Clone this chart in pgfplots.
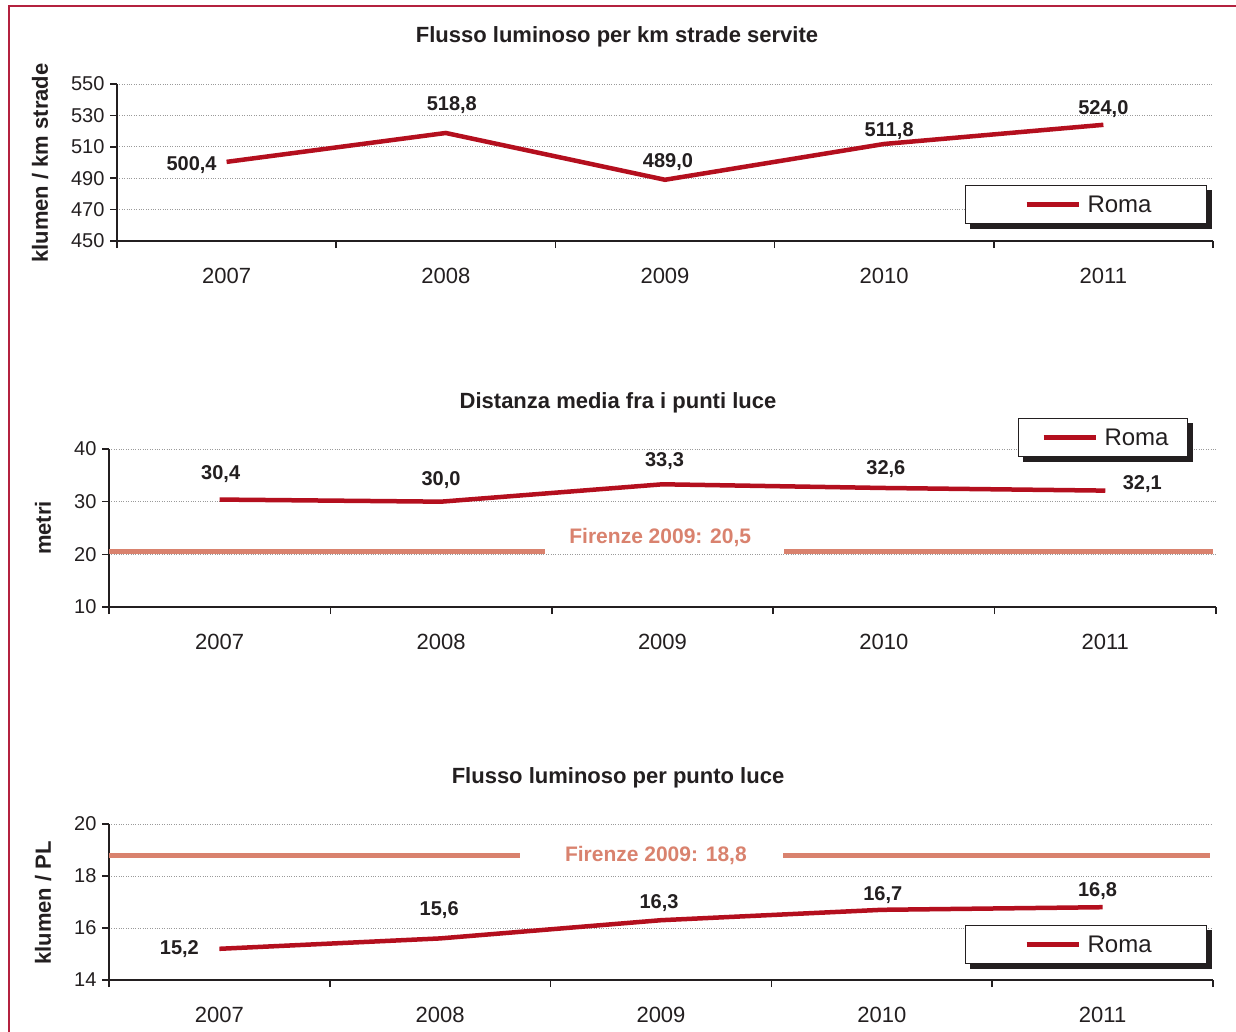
\documentclass[border=0pt]{standalone}
\usepackage{fontspec}
\setmainfont{Liberation Sans}
\usepackage{pgfplots}
\pgfplotsset{compat=1.18}

\definecolor{romared}{HTML}{B40F1E}
\definecolor{firenze}{HTML}{D9826E}
\definecolor{framered}{HTML}{B4213F}
\definecolor{ink}{HTML}{231F20}
\definecolor{gridgray}{HTML}{9A9A9A}

\newcommand{\fs}[1]{\fontsize{#1}{#1}\selectfont}
% solid offset shadow along the right and bottom edges of a legend box
\newcommand{\legshadow}[1]{%
  \fill[ink] ([xshift=5pt]#1.south west) rectangle ([xshift=5pt,yshift=-5pt]#1.south east);
  \fill[ink] ([yshift=-5pt]#1.north east) rectangle ([xshift=5pt]#1.south east);}

\pgfplotsset{
  panel/.style={
    scale only axis,
    clip=false,
    xmin=-0.5, xmax=4.5,
    xtick={-0.5,0.5,...,4.5},
    xticklabels={2007,2008,2009,2010,2011,{}},
    major tick length=7pt,
    tick align=outside,
    xtick pos=bottom, ytick pos=left,
    axis x line*=bottom, axis y line*=left,
    axis line style={-, line width=1.6pt, ink},
    tick style={line width=1.6pt, ink},
    ymajorgrids,
    grid style={gridgray, dotted, line width=0.9pt},
    /pgf/number format/assume math mode=true,
    yticklabel style={font=\fs{20}, text=ink, xshift=-2pt},
    xticklabel style={font=\fs{22}, text=ink, yshift=-17pt},
    legend style={draw=ink, line width=1.2pt, fill=white, font=\fs{24}, text=ink,
      anchor=north west, inner ysep=8pt, nodes={inner sep=2pt}},
    legend image code/.code={%
      \path[draw=none] (0pt,0pt) -- (67pt,0pt);
      \draw[#1, line width=4.5pt] (8pt,0pt) -- (60pt,0pt);},
  },
  roma/.style={color=romared, line width=4.5pt, mark=none,
    point meta=y,
    nodes near coords={\pgfmathprintnumber[fixed,fixed zerofill,precision=1,use comma]{\pgfplotspointmeta}},
    visualization depends on={\thisrow{dx} \as \dx},
    visualization depends on={\thisrow{dy} \as \dy},
    every node near coord/.append style={anchor=center, xshift=\dx pt, yshift=\dy pt,
      font=\bfseries\fs{20}, text=ink},
  },
  ref/.style={color=firenze, line width=5pt, mark=none, forget plot},
}

\begin{document}
\begin{tikzpicture}
\useasboundingbox (0pt,0pt) rectangle (1236pt,-1032pt);
\fill[white] (0pt,0pt) rectangle (1236pt,-1032pt);
\draw[framered, line width=2.5pt] (9pt,-1032pt) -- (9pt,-6pt) -- (1236pt,-6pt);

% Titles and axis titles
\node[font=\bfseries\fs{22}, text=ink] at (617pt,-37pt) {Flusso luminoso per km strade servite};
\node[font=\bfseries\fs{22}, text=ink] at (618pt,-403pt) {Distanza media fra i punti luce};
\node[font=\bfseries\fs{22}, text=ink] at (618pt,-778pt) {Flusso luminoso per punto luce};
\node[font=\bfseries\fs{22}, text=ink, rotate=90] at (40pt,-163pt) {klumen / km strade};
\node[font=\bfseries\fs{22}, text=ink, rotate=90] at (43pt,-528pt) {metri};
\node[font=\bfseries\fs{22}, text=ink, rotate=90] at (43pt,-903pt) {klumen / PL};

% Luminous flux per km of served road
\begin{axis}[panel, at={(117pt,-241pt)}, anchor=south west, width=1096pt, height=157pt,
  ymin=450, ymax=550, ytick={450,470,...,550},
  xticklabel style={xshift=109.6pt},
  legend style={at={(0.7737,0.3567)}, inner xsep=53pt, name=legA}]
\addplot[roma] table {
x y dx dy
0 500.4 -35 -3
1 518.8 6 28
2 489.0 3 18
3 511.8 5 13
4 524.0 0 16
};
\addlegendentry{Roma}
\end{axis}
\legshadow{legA}

% Mean distance between light points
\begin{axis}[panel, at={(109pt,-607pt)}, anchor=south west, width=1107pt, height=158pt,
  ymin=10, ymax=40, ytick={10,20,30,40},
  xticklabel style={xshift=110.7pt},
  legend style={at={(0.8211,1.196)}, inner xsep=17pt, name=legB}]
\addplot[ref] coordinates {(-0.5,20.5) (1.469,20.5)};
\addplot[ref] coordinates {(2.549,20.5) (4.486,20.5)};
\node[font=\bfseries\fs{21}, text=firenze, yshift=14pt] at (axis cs:1.99,20.5) {Firenze 2009: 20,5};
\addplot[roma] table {
x y dx dy
0 30.4 1 26
1 30.0 0 22
2 33.3 2 23
3 32.6 2 19
4 32.1 37 7
};
\addlegendentry{Roma}
\end{axis}
\legshadow{legB}

% Luminous flux per light point
\begin{axis}[panel, at={(109pt,-980pt)}, anchor=south west, width=1104pt, height=156pt,
  ymin=14, ymax=20, ytick={14,16,18,20},
  xticklabel style={xshift=110.4pt},
  legend style={at={(0.7754,0.3526)}, inner xsep=53pt, name=legC}]
\addplot[ref] coordinates {(-0.5,18.8) (1.361,18.8)};
\addplot[ref] coordinates {(2.553,18.8) (4.486,18.8)};
\node[font=\bfseries\fs{21}, text=firenze] at (axis cs:1.977,18.8) {Firenze 2009: 18,8};
\addplot[roma] table {
x y dx dy
0 15.2 -40 0
1 15.6 -1 28
2 16.3 -2 17
3 16.7 1 15
4 16.8 -5 16
};
\addlegendentry{Roma}
\end{axis}
\legshadow{legC}
\end{tikzpicture}
\end{document}
